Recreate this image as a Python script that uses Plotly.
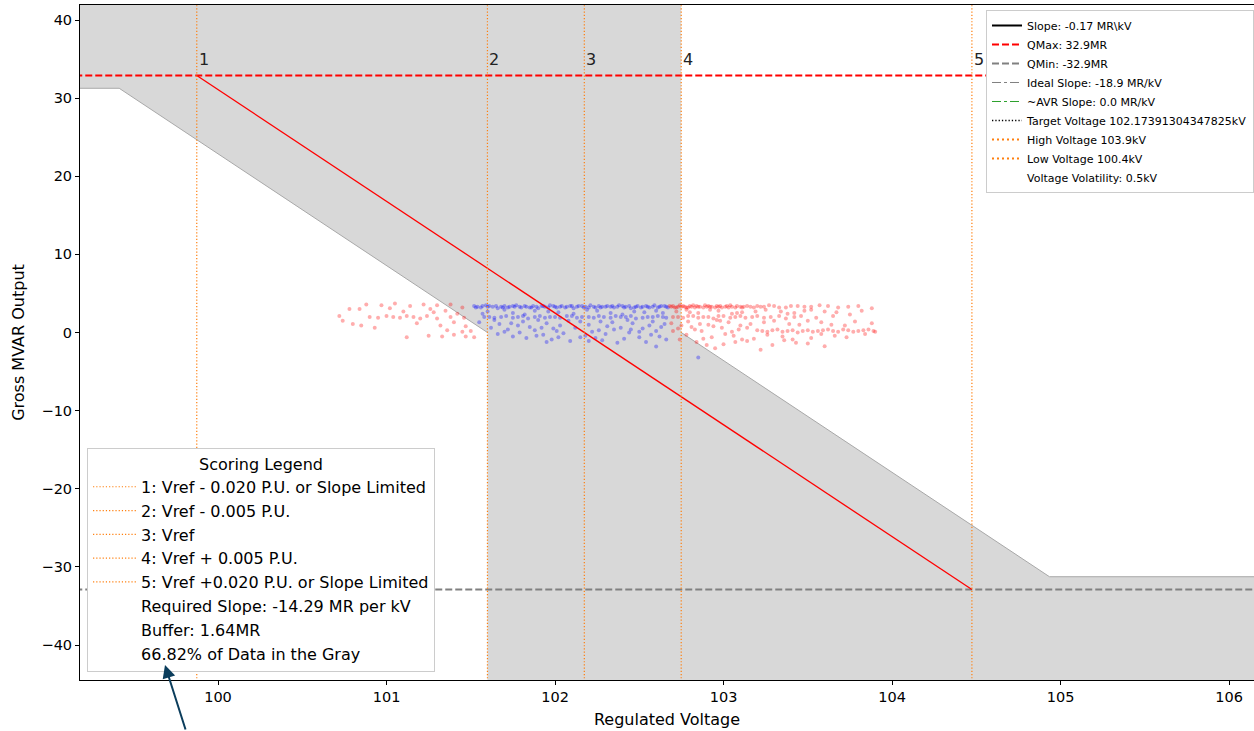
import plotly.graph_objects as go

# ---------------- data ----------------
vref = 102.17391304347825
kv_base = 115.0
qmax = 32.9
qmin = -32.9
buffer_mr = 1.64
pu_inner = 0.005
pu_outer = 0.020

x_ticks = [100, 101, 102, 103, 104, 105, 106]
y_ticks = [-40, -30, -20, -10, 0, 10, 20, 30, 40]
y_ticktext = ["\u221240", "\u221230", "\u221220", "\u221210", "0", "10", "20", "30", "40"]

scoring_names = [
    "1: Vref - 0.020 P.U. or Slope Limited",
    "2: Vref - 0.005 P.U.",
    "3: Vref",
    "4: Vref + 0.005 P.U.",
    "5: Vref +0.020 P.U. or Slope Limited",
]
scoring_notes = [
    "Required Slope: -14.29 MR per kV",
    "Buffer: 1.64MR",
    "66.82% of Data in the Gray",
]
info_names = [
    "Slope: -0.17 MR\\kV",
    "QMax: 32.9MR",
    "QMin: -32.9MR",
    "Ideal Slope: -18.9 MR/kV",
    "~AVR Slope: 0.0 MR/kV",
    "Target Voltage 102.17391304347825kV",
    "High Voltage 103.9kV",
    "Low Voltage 100.4kV",
    "Voltage Volatility: 0.5kV",
]

blue_pts = [
    (101.52, 3.4), (101.56, 3.2), (101.59, 3.5), (101.63, 3.3), (101.66, 3.1), (101.70, 3.4),
    (101.73, 3.3), (101.77, 3.5), (101.80, 3.2), (101.83, 3.3), (101.87, 3.4), (101.90, 3.1),
    (101.94, 3.3), (101.97, 3.5), (102.01, 3.2), (102.04, 3.4), (102.07, 3.3), (102.11, 3.1),
    (102.14, 3.4), (102.18, 3.3), (102.21, 3.5), (102.24, 3.2), (102.28, 3.3), (102.31, 3.4),
    (102.35, 3.2), (102.38, 3.5), (102.42, 3.3), (102.45, 3.1), (102.49, 3.4), (102.52, 3.3),
    (102.56, 3.2), (102.59, 3.5), (102.62, 3.3), (102.65, 3.4),
    (101.54, 3.3), (101.61, 3.4), (101.69, 3.2), (101.76, 3.3), (101.85, 3.2), (101.92, 3.4),
    (102.00, 3.3), (102.09, 3.4), (102.17, 3.2), (102.26, 3.4), (102.33, 3.3), (102.40, 3.4),
    (102.47, 3.2), (102.54, 3.4), (102.61, 3.2), (102.66, 3.3),
    (101.53, 3.2), (101.57, 3.4), (101.60, 3.3), (101.65, 3.4), (101.68, 3.3), (101.72, 3.2),
    (101.75, 3.4), (101.79, 3.3), (101.82, 3.4), (101.86, 3.2), (101.89, 3.3), (101.93, 3.4),
    (101.96, 3.2), (101.99, 3.4), (102.03, 3.3), (102.06, 3.2), (102.10, 3.4), (102.13, 3.3),
    (102.16, 3.4), (102.20, 3.2), (102.23, 3.3), (102.27, 3.2), (102.30, 3.3), (102.34, 3.4),
    (102.37, 3.3), (102.41, 3.2), (102.44, 3.4), (102.48, 3.3), (102.51, 3.2), (102.55, 3.3),
    (102.58, 3.3), (102.63, 3.4), (102.67, 3.2),
    (101.58, 2.0), (101.64, 1.9), (101.71, 2.1), (101.78, 2.0), (101.84, 1.8), (101.91, 2.1),
    (101.97, 2.0), (102.03, 1.9), (102.10, 2.1), (102.16, 2.0), (102.23, 1.9), (102.29, 2.0),
    (102.36, 2.1), (102.42, 2.0), (102.48, 1.8), (102.55, 2.0), (102.61, 2.1), (102.66, 1.9),
    (101.61, 2.0), (101.68, 2.0), (101.75, 1.9), (101.81, 2.1), (101.88, 2.0), (101.94, 1.9),
    (102.00, 2.0), (102.07, 2.1), (102.13, 1.9), (102.20, 2.0), (102.26, 2.1), (102.33, 1.9),
    (102.39, 2.0), (102.45, 2.1), (102.52, 1.9), (102.58, 2.0), (102.64, 2.0),
    (101.60, 2.7), (101.75, 2.5), (101.88, 2.8), (102.02, 2.6), (102.19, 2.9), (102.33, 2.5),
    (102.47, 2.7), (102.60, 2.8), (101.57, 2.4), (101.70, 2.9), (101.82, 2.3), (101.96, 2.7),
    (102.11, 2.4), (102.25, 2.8), (102.40, 2.3), (102.53, 2.6), (102.64, 2.5),
    (101.55, 1.3), (101.67, 1.1), (101.81, 1.4), (101.95, 1.2), (102.08, 1.5), (102.20, 1.0),
    (102.34, 1.3), (102.46, 1.2), (102.58, 1.4), (102.65, 1.1), (101.74, 1.2), (102.27, 1.4),
    (101.64, 1.6), (101.78, 0.9), (101.90, 1.6), (102.03, 0.9), (102.15, 1.4), (102.31, 0.8),
    (102.43, 1.6), (102.56, 0.9),
    (101.62, 0.6), (101.72, 0.4), (101.85, 0.7), (101.99, 0.5), (102.12, 0.6), (102.26, 0.3),
    (102.39, 0.6), (102.52, 0.5), (102.63, 0.7), (101.92, 0.6), (102.45, 0.4),
    (101.70, 0.1), (101.88, 0.3), (102.01, 0.2), (102.22, 0.1), (102.35, 0.4), (102.50, 0.1),
    (102.60, 0.2),
    (101.66, -0.2), (101.79, 0.0), (101.93, -0.3), (102.05, -0.1), (102.18, -0.4), (102.30, -0.2),
    (102.44, 0.0), (102.57, -0.3), (101.75, -0.5), (101.89, -0.4), (102.02, -0.6), (102.24, -0.7),
    (102.50, -0.6), (102.66, -0.9),
    (101.83, -0.7), (101.98, -0.9), (102.15, -0.6), (102.28, -1.0), (102.41, -0.8), (102.54, -1.2),
    (102.62, -0.5), (102.37, -1.3), (102.09, -1.1), (101.95, -1.2), (102.20, -1.1),
    (102.85, -3.2), (102.60, -1.8),
]
red_pts = [
    # right of the gray band
    (102.68, 3.4), (102.71, 3.2), (102.74, 3.5), (102.77, 3.3), (102.80, 3.4), (102.83, 3.2),
    (102.86, 3.3), (102.89, 3.5), (102.92, 3.3), (102.95, 3.2), (102.98, 3.4), (103.01, 3.3),
    (103.04, 3.5), (103.07, 3.2), (103.10, 3.3), (103.14, 3.4), (103.18, 3.2), (103.22, 3.3),
    (103.27, 3.5), (103.33, 3.2), (103.40, 3.4), (103.48, 3.3), (103.57, 3.5), (103.68, 3.2),
    (103.80, 3.4), (103.88, 3.1), (102.69, 3.3), (102.73, 3.3), (102.79, 3.2), (102.84, 3.4),
    (102.90, 3.3), (102.97, 3.3), (103.03, 3.2), (103.12, 3.3), (103.20, 3.4),
    (102.70, 3.4), (102.72, 3.2), (102.75, 3.3), (102.76, 3.4), (102.78, 3.2), (102.81, 3.3),
    (102.82, 3.5), (102.85, 3.3), (102.88, 3.2), (102.91, 3.4), (102.93, 3.3), (102.96, 3.4),
    (102.99, 3.2), (103.02, 3.4), (103.05, 3.3), (103.08, 3.4), (103.11, 3.2), (103.16, 3.3),
    (103.24, 3.3), (103.30, 3.4), (103.37, 3.2), (103.44, 3.4), (103.52, 3.3), (103.62, 3.4),
    (103.74, 3.3),
    (102.70, 2.0), (102.76, 1.9), (102.82, 2.1), (102.88, 2.0), (102.94, 1.8), (103.00, 2.1),
    (103.07, 2.0), (103.13, 1.9), (103.20, 2.1), (103.28, 2.0), (103.37, 1.8), (103.46, 2.1),
    (102.73, 2.0), (102.79, 2.1), (102.85, 1.9), (102.91, 2.0), (102.97, 2.1), (103.04, 1.9),
    (103.10, 2.1), (103.17, 2.0), (103.24, 1.9), (103.33, 2.1), (103.42, 2.0), (103.55, 1.9),
    (103.65, 2.1),
    (103.20, 0.3), (103.26, 0.1), (103.32, 0.4), (103.38, 0.2), (103.44, 0.0), (103.50, 0.3),
    (103.56, 0.2), (103.62, 0.4), (103.68, 0.1), (103.74, 0.3), (103.80, 0.2), (103.86, 0.4),
    (103.90, 0.1), (103.23, 0.2), (103.29, 0.3), (103.35, 0.1), (103.41, 0.3), (103.47, 0.2),
    (103.53, 0.1), (103.59, 0.3), (103.65, 0.2), (103.71, 0.4), (103.77, 0.1), (103.83, 0.3),
    (103.89, 0.2),
    (102.72, 2.7), (102.85, 2.5), (102.97, 2.8), (103.11, 2.6), (103.25, 2.9), (103.42, 2.5),
    (103.60, 2.7), (103.75, 2.3), (102.78, 2.9), (103.05, 2.4), (103.34, 2.7), (103.52, 2.9),
    (102.80, 2.6), (102.92, 2.9), (103.08, 2.5), (103.19, 2.7), (103.38, 2.4), (103.48, 2.8),
    (103.67, 2.6), (103.82, 2.8),
    (102.69, 1.2), (102.79, 1.4), (102.91, 1.0), (103.03, 1.3), (103.16, 1.1), (103.30, 1.5),
    (103.45, 1.0), (103.58, 1.3), (103.72, 0.9), (103.88, 1.2), (102.75, 0.9), (102.96, 1.6),
    (102.86, 1.1), (102.98, 1.5), (103.10, 0.9), (103.24, 1.3), (103.39, 1.1), (103.50, 1.5),
    (103.64, 1.0), (103.78, 1.4),
    (102.73, 0.5), (102.87, 0.2), (102.99, 0.6), (103.09, 0.4), (102.70, 0.2), (102.81, 0.7),
    (102.83, 0.4), (102.94, 0.8), (103.05, 0.1), (103.14, 0.6),
    (102.78, -0.3), (102.93, -0.6), (103.06, -0.4), (103.18, -0.8), (103.35, -0.5), (103.52, -0.7),
    (103.66, -0.4), (103.84, -0.2), (102.88, -0.8), (103.01, -0.2), (103.11, -0.9), (103.26, -0.3),
    (103.41, -0.9), (103.58, -0.2), (103.73, -0.6),
    (102.84, -1.2), (103.00, -1.5), (103.14, -1.1), (103.29, -1.6), (103.43, -1.3), (102.95, -2.0),
    (103.22, -2.2), (103.60, -1.75), (102.74, -0.9), (102.90, -1.6), (103.07, -1.2), (103.36, -1.0),
    (103.50, -1.4),
    # left of the gray band
    (100.72, 2.1), (100.78, 3.0), (100.84, 3.0), (100.90, 2.0), (100.95, 1.9), (101.00, 2.1),
    (101.04, 2.0), (101.08, 1.9), (101.12, 2.1), (101.16, 2.0), (101.20, 1.8), (101.24, 2.1),
    (100.88, 3.6), (100.97, 3.5), (101.05, 3.7), (101.14, 3.4), (101.22, 3.6), (101.30, 3.5),
    (101.38, 3.6), (101.45, 3.2), (101.10, 2.7), (101.28, 2.6), (101.35, 2.8), (101.42, 2.4),
    (100.85, 0.9), (100.93, 0.6), (101.18, 1.2), (101.32, 0.9), (101.40, 1.3), (101.47, 0.8),
    (101.12, -0.6), (101.25, -0.4), (101.33, -0.5), (101.40, -0.3), (101.47, -0.5), (101.52, -0.6),
    (101.36, 0.3), (101.45, 0.1), (101.50, 0.2), (101.30, 1.8), (101.38, 2.0), (101.46, 1.9),
    (101.26, 3.0), (101.02, 3.1), (100.80, 1.1), (100.74, 1.5),
]

# ---------------- derived geometry ----------------
dv_in = pu_inner * kv_base
dv_out = pu_outer * kv_base
v_lines = [vref - dv_out, vref - dv_in, vref, vref + dv_in, vref + dv_out]
v1, v2, v3, v4, v5 = v_lines
slope = (qmin - qmax) / (v5 - v1)
cap = qmax - buffer_mr
v2l = v2 + cap / slope
v4r = v4 - cap / slope

x_range = [99.181, 106.148]
y_range = [-44.48, 41.92]
x_lo, x_hi = 98.5, 107.0
y_top, y_bot = 50.0, -50.0

fig = go.Figure()

# gray acceptance region
poly_x = [x_lo, v4, v4, v4r, x_hi, x_hi, v2, v2, v2l, x_lo, x_lo]
poly_y = [y_top, y_top, 0, -cap, -cap, y_bot, y_bot, 0, cap, cap, y_top]
fig.add_trace(go.Scatter(x=poly_x, y=poly_y, fill="toself", fillcolor="#d8d8d8",
                         mode="lines", line=dict(width=0), hoverinfo="skip", showlegend=False))
fig.add_trace(go.Scatter(x=[x_lo, v2l, v2], y=[cap, cap, 0], mode="lines",
                         line=dict(color="#a8a8a8", width=1), showlegend=False, hoverinfo="skip"))
fig.add_trace(go.Scatter(x=[v4, v4r, x_hi], y=[0, -cap, -cap], mode="lines",
                         line=dict(color="#a8a8a8", width=1), showlegend=False, hoverinfo="skip"))

# scatter points
fig.add_trace(go.Scatter(x=[p[0] for p in blue_pts], y=[p[1] for p in blue_pts], mode="markers",
                         marker=dict(color="blue", size=4, opacity=0.32, line=dict(width=0)),
                         showlegend=False))
fig.add_trace(go.Scatter(x=[p[0] for p in red_pts], y=[p[1] for p in red_pts], mode="markers",
                         marker=dict(color="red", size=4, opacity=0.32, line=dict(width=0)),
                         showlegend=False))

# QMax / QMin
fig.add_trace(go.Scatter(x=[x_lo, x_hi], y=[qmax, qmax], mode="lines", name=info_names[1],
                         line=dict(color="red", width=2, dash="7px,3px"), legend="legend", legendrank=2))
fig.add_trace(go.Scatter(x=[x_lo, x_hi], y=[qmin, qmin], mode="lines", name=info_names[2],
                         line=dict(color="gray", width=2, dash="7px,3px"), legend="legend", legendrank=3))

# required slope line
fig.add_trace(go.Scatter(x=[v1, v5], y=[qmax, qmin], mode="lines",
                         line=dict(color="red", width=1.3), showlegend=False))

# scoring vertical lines
for i, (v, nm) in enumerate(zip(v_lines, scoring_names)):
    fig.add_trace(go.Scatter(x=[v, v], y=[y_bot, y_top], mode="lines", name=nm,
                             line=dict(color="#ff7f0e", width=1.2, dash="1.2px,2px"),
                             legend="legend2", legendrank=10 + i))
for i, nm in enumerate(scoring_notes):
    fig.add_trace(go.Scatter(x=[None], y=[None], mode="lines", name=nm,
                             line=dict(color="rgba(0,0,0,0)", width=1),
                             legend="legend2", legendrank=20 + i))

# information legend entries
info_styles = {
    0: dict(color="black", width=2),
    3: dict(color="gray", width=1, dash="dashdot"),
    4: dict(color="#2ca02c", width=1, dash="dashdot"),
    5: dict(color="black", width=1.3, dash="1.3px,2px"),
    6: dict(color="#ff7f0e", width=2, dash="2px,3px"),
    7: dict(color="#ff7f0e", width=2, dash="2px,3px"),
    8: dict(color="rgba(0,0,0,0)", width=1),
}
for k, st in info_styles.items():
    fig.add_trace(go.Scatter(x=[None], y=[None], mode="lines", name=info_names[k], line=st,
                             legend="legend", legendrank=k + 1))

# numbers over the scoring lines
for i, v in enumerate(v_lines):
    fig.add_annotation(x=v, y=35.0, text=str(i + 1), showarrow=False, xanchor="left",
                       yanchor="middle", xshift=0, font=dict(size=16, color="#222"))

# arrow pointing at the scoring legend
fig.add_annotation(xref="paper", yref="paper", x=0.0724, y=0.0222, ax=21, ay=66, text="",
                   showarrow=True, arrowhead=2, arrowsize=1.3, arrowwidth=2, arrowcolor="#0b3d5c")

fig.update_layout(
    width=1254, height=731,
    margin=dict(l=80, r=0, t=5, b=51, autoexpand=False),
    paper_bgcolor="white", plot_bgcolor="white",
    font=dict(family="DejaVu Sans", size=14, color="black"),
    legend=dict(x=1.0, xanchor="right", y=0.9926, yanchor="top", bgcolor="white",
                bordercolor="#cccccc", borderwidth=1, font=dict(size=11), tracegroupgap=0,
                traceorder="normal"),
    legend2=dict(x=0.006, xanchor="left", y=0.0118, yanchor="bottom", bgcolor="white",
                 bordercolor="#cccccc", borderwidth=1, font=dict(size=16), itemwidth=43,
                 title=dict(text="Scoring Legend", side="top center", font=dict(size=16)),
                 traceorder="normal"),
)
fig.update_xaxes(range=x_range, tickvals=x_ticks, showgrid=False, zeroline=False,
                 showline=True, linecolor="black", linewidth=1, mirror=True, automargin=False,
                 ticks="outside", ticklen=4, tickcolor="black", tickfont=dict(size=14.5),
                 title=dict(text="Regulated Voltage", font=dict(size=16), standoff=9))
fig.update_yaxes(range=y_range, tickvals=y_ticks, ticktext=y_ticktext, showgrid=False,
                 zeroline=False, showline=True, linecolor="black", linewidth=1, automargin=False,
                 ticks="outside", ticklen=4, tickcolor="black", tickfont=dict(size=14.5),
                 title=dict(text="Gross MVAR Output", font=dict(size=16), standoff=12))

fig.write_html("out.html", config={"displayModeBar": False},
               post_script="document.body.style.margin='0px';")
